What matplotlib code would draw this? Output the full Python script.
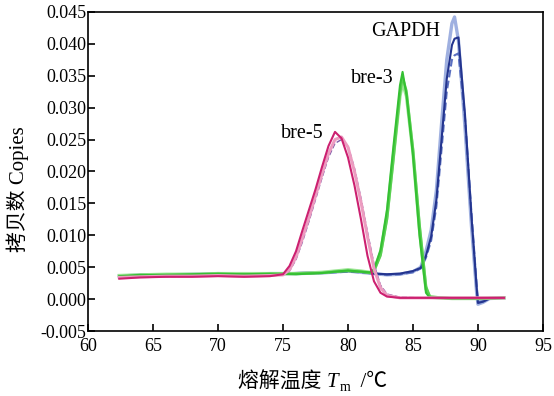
import matplotlib
matplotlib.use("Agg")
import matplotlib.pyplot as plt
from matplotlib.ticker import FormatStrFormatter, MultipleLocator

plt.rcParams['font.family'] = ['Liberation Serif', 'Noto Sans CJK SC', 'DejaVu Sans']
plt.rcParams['axes.unicode_minus'] = False

# bre-5 replicates
bre5_x = [62.4, 64, 66, 68, 70, 72, 74, 75, 75.5, 76, 76.5, 77, 77.5, 78, 78.5, 79,
          79.5, 80, 80.5, 81, 81.5, 82, 82.5, 83, 84, 86, 88, 90, 92]
bre5_a = [0.0032, 0.0034, 0.0035, 0.0035, 0.0036, 0.0035, 0.0036, 0.0039, 0.0052, 0.0075,
          0.0108, 0.0140, 0.0172, 0.0207, 0.0240, 0.0262, 0.0252, 0.0222, 0.0178, 0.0125,
          0.0068, 0.0028, 0.0010, 0.0004, 0.0002, 0.0002, 0.0002, 0.0002, 0.0002]
bre5_b = [0.0034, 0.0035, 0.0036, 0.0036, 0.0037, 0.0036, 0.0037, 0.0038, 0.0046, 0.0066,
          0.0096, 0.0128, 0.0162, 0.0196, 0.0228, 0.0250, 0.0254, 0.0238, 0.0200, 0.0152,
          0.0098, 0.0048, 0.0018, 0.0006, 0.0002, 0.0002, 0.0002, 0.0002, 0.0002]
bre5_c = [0.0033, 0.0035, 0.0035, 0.0036, 0.0036, 0.0036, 0.0037, 0.0038, 0.0044, 0.0062,
          0.0090, 0.0122, 0.0156, 0.0190, 0.0222, 0.0244, 0.0250, 0.0240, 0.0205, 0.0158,
          0.0105, 0.0055, 0.0022, 0.0008, 0.0003, 0.0002, 0.0002, 0.0002, 0.0002]

# bre-3 replicates
bre3_x = [62.4, 64, 66, 68, 70, 72, 74, 76, 78, 79, 80, 81, 81.7, 82, 82.5, 83, 83.5, 84,
          84.2, 84.5, 85, 85.5, 86, 86.3, 88, 90, 92]
bre3_a = [0.0036, 0.0038, 0.0038, 0.0039, 0.0040, 0.0039, 0.0040, 0.0039, 0.0041, 0.0043,
          0.0045, 0.0043, 0.0042, 0.0047, 0.0077, 0.0140, 0.0240, 0.0335, 0.0356, 0.0320,
          0.0225, 0.0100, 0.0010, 0.0002, 0.0001, 0.0001, 0.0002]
bre3_b = [0.0037, 0.0038, 0.0039, 0.0039, 0.0040, 0.0040, 0.0040, 0.0040, 0.0042, 0.0044,
          0.0046, 0.0044, 0.0042, 0.0045, 0.0072, 0.0130, 0.0225, 0.0318, 0.0339, 0.0318,
          0.0230, 0.0110, 0.0016, 0.0003, 0.0001, 0.0001, 0.0002]
bre3_c = [0.0035, 0.0037, 0.0038, 0.0038, 0.0039, 0.0039, 0.0039, 0.0040, 0.0041, 0.0043,
          0.0044, 0.0043, 0.0041, 0.0044, 0.0068, 0.0125, 0.0220, 0.0322, 0.0348, 0.0326,
          0.0235, 0.0118, 0.0020, 0.0004, 0.0001, 0.0001, 0.0002]

# GAPDH replicates
gapdh_x = [62.4, 64, 66, 68, 70, 72, 74, 76, 78, 80, 81, 82, 83, 84, 85, 85.6, 86, 86.4,
           86.8, 87.2, 87.6, 88, 88.2, 88.5, 89, 89.5, 89.9, 90.0, 90.4, 90.9, 92]
gapdh_a = [0.0036, 0.0038, 0.0038, 0.0039, 0.0040, 0.0039, 0.0040, 0.0040, 0.0041, 0.0044,
           0.0042, 0.0040, 0.0038, 0.0039, 0.0043, 0.0050, 0.0075, 0.0108, 0.0170, 0.0275,
           0.0375, 0.0432, 0.0442, 0.0405, 0.0270, 0.0115, 0.0010, -0.0008, -0.0005, 0.0001,
           0.0002]
gapdh_b = [0.0037, 0.0038, 0.0039, 0.0039, 0.0040, 0.0040, 0.0040, 0.0041, 0.0042, 0.0044,
           0.0043, 0.0040, 0.0039, 0.0040, 0.0044, 0.0049, 0.0068, 0.0098, 0.0155, 0.0250,
           0.0345, 0.0398, 0.0408, 0.0410, 0.0290, 0.0130, 0.0018, -0.0006, -0.0004, 0.0001,
           0.0002]
gapdh_c = [0.0036, 0.0037, 0.0038, 0.0038, 0.0039, 0.0039, 0.0040, 0.0040, 0.0041, 0.0043,
           0.0042, 0.0040, 0.0038, 0.0039, 0.0042, 0.0048, 0.0065, 0.0092, 0.0145, 0.0235,
           0.0325, 0.0375, 0.0382, 0.0385, 0.0285, 0.0135, 0.0022, -0.0004, -0.0003, 0.0001,
           0.0002]

fig = plt.figure(figsize=(5.54, 3.96), dpi=100)
ax = fig.add_axes([0.159, 0.164, 0.821, 0.806])

ax.plot(gapdh_x, gapdh_a, color="#9fb0e0", lw=2.4)
ax.plot(gapdh_x, gapdh_c, color="#5a6fc0", lw=1.5, ls="--")
ax.plot(gapdh_x, gapdh_b, color="#24358f", lw=1.5)
ax.plot(bre3_x, bre3_b, color="#9ae592", lw=2.4)
ax.plot(bre3_x, bre3_c, color="#58d050", lw=1.8)
ax.plot(bre3_x, bre3_a, color="#35c033", lw=1.5)
ax.plot(bre5_x, bre5_c, color="#7a5aa8", lw=1.0, ls="--")
ax.plot(bre5_x, bre5_b, color="#ec9cc0", lw=2.2)
ax.plot(bre5_x, bre5_a, color="#cc2070", lw=1.5)

ax.text(84.4, 0.0420, "GAPDH", fontsize=14.5, ha="center", va="center")
ax.text(81.9, 0.0345, "bre-3", fontsize=14.5, ha="center", va="center")
ax.text(76.5, 0.0259, "bre-5", fontsize=14.5, ha="center", va="center")

ax.set_xlim(60, 95)
ax.set_ylim(-0.005, 0.045)
ax.xaxis.set_major_locator(MultipleLocator(5))
ax.yaxis.set_major_locator(MultipleLocator(0.005))
ax.yaxis.set_major_formatter(FormatStrFormatter('%.3f'))
ax.tick_params(direction="in", length=5, width=1.2, labelsize=13, top=False, right=False)
ax.tick_params(axis="y", pad=1)
ax.tick_params(axis="x", pad=5)
for s in ax.spines.values():
    s.set_linewidth(1.2)

ax.set_ylabel("拷贝数 Copies", fontsize=15)
ax.yaxis.set_label_coords(-0.13, 0.445)

# x label built from pieces: Chinese text, italic T, small m, unit
t1 = fig.text(0.43, 0.022, "熔解温度 ", fontsize=15, ha="left", va="baseline")
t2 = ax.annotate("T", xy=(1, 0), xycoords=t1, fontsize=15, style="italic",
                 ha="left", va="bottom")
t3 = ax.annotate("m", xy=(1, 0), xycoords=t2, fontsize=10, ha="left", va="bottom",
                 xytext=(0.5, -1), textcoords="offset points")
ax.annotate("  /℃", xy=(1, 0), xycoords=t3, fontsize=15, ha="left", va="bottom",
            xytext=(0, 1), textcoords="offset points")

fig.savefig("out.png", dpi=100)
